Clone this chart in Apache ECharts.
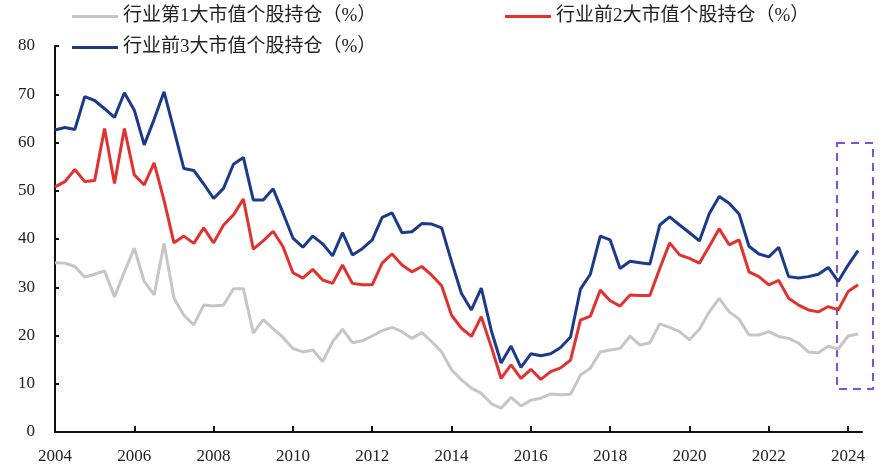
<!DOCTYPE html>
<html>
<head>
<meta charset="utf-8">
<style>
  html, body { margin: 0; padding: 0; background: #fff; }
  #chart { width: 893px; height: 466px; }
</style>
<script src="https://cdn.jsdelivr.net/npm/echarts@6/dist/echarts.min.js"></script>
</head>
<body>
<div id="chart"></div>
<script>
// quarterly, 2004Q1 .. 2024Q2
var quarters = [];
for (var yr = 2004; yr <= 2024; yr++) {
  for (var q = 1; q <= 4; q++) {
    if (yr === 2024 && q > 2) break;
    quarters.push(yr + "Q" + q);
  }
}

var names = [
  "行业第1大市值个股持仓（%）",
  "行业前2大市值个股持仓（%）",
  "行业前3大市值个股持仓（%）",
];

var top1 = [
  35.1, 35.0, 34.3, 32.1, 32.7, 33.4, 28.0, 33.2, 38.1, 31.2,
  28.4, 39.1, 27.7, 24.2, 22.2, 26.3, 26.1, 26.3, 29.7, 29.7,
  20.5, 23.3, 21.4, 19.6, 17.3, 16.6, 17.0, 14.6, 18.7, 21.3,
  18.5, 18.9, 19.9, 21.0, 21.7, 20.8, 19.4, 20.6, 18.7, 16.6,
  12.9, 10.8, 9.1, 8.0, 5.9, 4.9, 7.2, 5.4, 6.6, 7.0,
  7.9, 7.7, 7.8, 11.8, 13.2, 16.6, 17.0, 17.3, 19.9, 18.0,
  18.5, 22.4, 21.7, 20.8, 19.1, 21.3, 24.9, 27.7, 24.9, 23.4,
  20.1, 20.1, 20.8, 19.8, 19.4, 18.4, 16.6, 16.4, 17.8, 17.2,
  19.9, 20.3,
];

var top2 = [
  50.8, 51.9, 54.4, 51.9, 52.1, 62.9, 51.5, 62.9, 53.3, 51.2,
  55.8, 48.0, 39.2, 40.6, 39.1, 42.3, 39.2, 42.9, 45.0, 48.3,
  37.9, 39.6, 41.6, 38.4, 33.0, 31.9, 33.7, 31.5, 30.8, 34.6,
  30.8, 30.5, 30.5, 35.0, 36.9, 34.6, 33.2, 34.3, 32.5, 30.3,
  24.2, 21.5, 19.8, 23.9, 17.7, 11.1, 13.9, 11.1, 13.0, 10.9,
  12.5, 13.3, 14.9, 23.2, 24.0, 29.4, 27.2, 26.1, 28.4, 28.3,
  28.3, 33.9, 39.2, 36.7, 36.0, 35.0, 38.5, 42.1, 38.8, 39.8,
  33.2, 32.2, 30.5, 31.4, 27.7, 26.3, 25.3, 24.9, 26.0, 25.3,
  29.1, 30.5,
];

var top3 = [
  62.6, 63.1, 62.7, 69.5, 68.7, 67.0, 65.2, 70.3, 66.7, 59.5,
  64.8, 70.5, 62.6, 54.6, 54.2, 51.4, 48.4, 50.5, 55.5, 56.9,
  48.1, 48.1, 50.4, 45.4, 40.2, 38.3, 40.6, 39.0, 36.5, 41.3,
  36.7, 38.0, 39.8, 44.5, 45.4, 41.3, 41.5, 43.2, 43.1, 42.3,
  35.3, 28.7, 25.3, 29.8, 21.1, 14.3, 17.8, 13.4, 16.2, 15.8,
  16.2, 17.5, 19.7, 29.6, 32.7, 40.6, 39.8, 33.9, 35.4, 35.1,
  34.8, 42.9, 44.6, 42.9, 41.3, 39.6, 45.3, 48.8, 47.4, 45.2,
  38.5, 36.9, 36.3, 38.3, 32.2, 31.9, 32.2, 32.7, 34.1, 31.2,
  34.6, 37.6,
];

var colors = ["#c6c6c6", "#e2322f", "#1b3a8a"];
var serif = "'Liberation Serif', 'Noto Sans CJK SC', serif";

// quarter label -> fractional year for the value axis
function toX(label) {
  var p = label.split("Q");
  return Number(p[0]) + (Number(p[1]) - 1) / 4;
}
function pairs(vals) {
  return vals.map(function (v, i) {
    return [toX(quarters[i]), v];
  });
}

function legendAt(name, left, top) {
  return {
    data: [name],
    left: left,
    top: top,
    icon: "rect",
    itemWidth: 46,
    itemHeight: 3,
    selectedMode: false,
    textStyle: { fontFamily: serif, fontSize: 19, color: "#222" },
  };
}

var chart = echarts.init(document.getElementById("chart"));
chart.setOption({
  animation: false,
  backgroundColor: "#fff",
  legend: [
    legendAt(names[0], 67, 2),
    legendAt(names[1], 500, 2),
    legendAt(names[2], 67, 33),
  ],
  grid: { left: 55, right: 31, top: 46, bottom: 34, containLabel: false },
  xAxis: {
    type: "value",
    min: 2004,
    max: 2024.35,
    interval: 2,
    splitLine: { show: false },
    axisLine: { lineStyle: { color: "#111", width: 2 } },
    axisTick: { inside: true, length: 6, lineStyle: { color: "#111", width: 2 } },
    axisLabel: {
      margin: 16,
      fontFamily: serif,
      fontSize: 17,
      color: "#222",
      showMaxLabel: false,
      formatter: function (v) {
        return v % 2 === 0 ? String(v) : "";
      },
    },
  },
  yAxis: {
    type: "value",
    min: 0,
    max: 80,
    interval: 10,
    splitLine: { show: false },
    axisLine: { show: true, lineStyle: { color: "#111", width: 2 } },
    axisTick: { show: true, inside: true, length: 4, lineStyle: { color: "#111", width: 2 } },
    axisLabel: { margin: 20, fontFamily: serif, fontSize: 17, color: "#222" },
  },
  series: [
    {
      name: names[0],
      type: "line",
      data: pairs(top1),
      symbol: "none",
      lineStyle: { color: colors[0], width: 3 },
      itemStyle: { color: colors[0] },
    },
    {
      name: names[1],
      type: "line",
      data: pairs(top2),
      symbol: "none",
      lineStyle: { color: colors[1], width: 3 },
      itemStyle: { color: colors[1] },
    },
    {
      name: names[2],
      type: "line",
      data: pairs(top3),
      symbol: "none",
      lineStyle: { color: colors[2], width: 3 },
      itemStyle: { color: colors[2] },
    },
  ],
  // highlight box around the latest quarters
  graphic: [
    {
      type: "rect",
      shape: { x: 837, y: 143, width: 36, height: 246 },
      style: {
        fill: "none",
        stroke: "#8a4fcf",
        lineWidth: 2,
        lineDash: [8, 6],
      },
    },
  ],
});
</script>
</body>
</html>
